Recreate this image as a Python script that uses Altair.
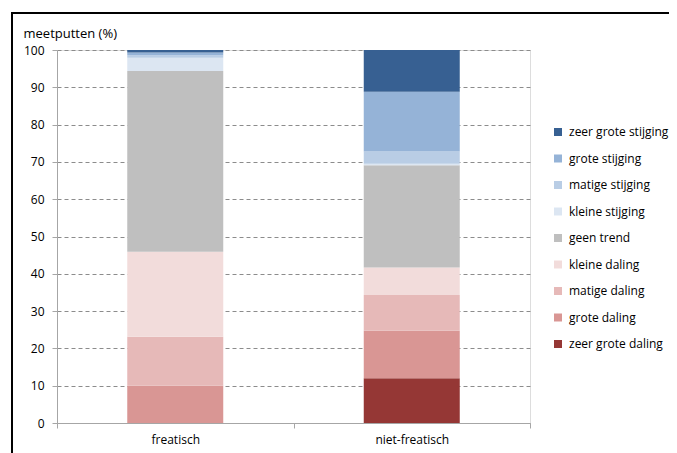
import altair as alt
import pandas as pd

categories = ["freatisch", "niet-freatisch"]
classes = ["zeer grote daling", "grote daling", "matige daling", "kleine daling",
           "geen trend", "kleine stijging", "matige stijging", "grote stijging",
           "zeer grote stijging"]
colors = ["#953735", "#D99694", "#E6B9B8", "#F2DCDB", "#BFBFBF",
          "#DCE6F2", "#B9CDE5", "#95B3D7", "#376092"]
freatisch = [0.0, 10.0, 13.1, 22.8, 48.5, 3.5, 0.7, 0.7, 0.7]
niet_freatisch = [12.0, 12.7, 9.6, 7.4, 27.4, 0.4, 3.3, 16.0, 11.2]

rows = []
for i, c in enumerate(classes):
    rows.append({"cat": "freatisch", "klasse": c, "order": i, "v": freatisch[i]})
    rows.append({"cat": "niet-freatisch", "klasse": c, "order": i, "v": niet_freatisch[i]})
df = pd.DataFrame(rows)

FONT = "Open Sans"

bars = alt.Chart(df).mark_bar(size=96).encode(
    x=alt.X("cat:N", sort=categories,
            scale=alt.Scale(paddingInner=0, paddingOuter=0),
            axis=alt.Axis(title=None, labelAngle=0, tickBand="extent",
                          domainColor="#A6A6A6", tickColor="#A6A6A6",
                          tickSize=5, labelPadding=6, labelFontSize=12,
                          labelFont=FONT, labelColor="#000000", grid=False)),
    y=alt.Y("v:Q", stack="zero",
            scale=alt.Scale(domain=[0, 100], nice=False),
            axis=alt.Axis(values=list(range(0, 101, 10)), title="meetputten (%)",
                          titleAngle=0, titleAlign="left", titleBaseline="alphabetic",
                          titleX=-34, titleY=-13, titleFont=FONT, titleFontSize=13,
                          titleFontWeight="normal", titleColor="#000000",
                          labelFont=FONT, labelFontSize=12, labelColor="#000000",
                          labelPadding=8, tickSize=5, tickColor="#A6A6A6",
                          domainColor="#A6A6A6", grid=True, gridColor="#8C8C8C",
                          gridDash=[4, 3], gridWidth=1)),
    color=alt.Color("klasse:N", sort=classes[::-1],
                    scale=alt.Scale(domain=classes[::-1], range=colors[::-1]),
                    legend=alt.Legend(title=None, orient="none", legendX=495, legendY=76,
                                      symbolType="square", symbolSize=64,
                                      symbolStrokeWidth=0, labelFont=FONT,
                                      labelFontSize=12, labelColor="#000000",
                                      rowPadding=14.5, labelOffset=5)),
    order=alt.Order("order:Q", sort="ascending"),
)

border_df = pd.DataFrame({"a": [0]})
top_border = alt.Chart(border_df).mark_rule(color="#000000", strokeWidth=2).encode(
    x=alt.value(-45), x2=alt.value(700), y=alt.value(-37))
left_border = alt.Chart(border_df).mark_rule(color="#000000", strokeWidth=2).encode(
    x=alt.value(-45), y=alt.value(-38), y2=alt.value(500))

chart = alt.layer(bars, top_border, left_border).properties(
    width=473, height=373,
    autosize=alt.AutoSizeParams(type="none"),
    padding={"left": 49, "top": 42, "right": 139, "bottom": 30},
).configure_view(stroke=None).configure(background="#FFFFFF")

chart.save("out.html", embed_options={"renderer": "svg", "actions": False})
